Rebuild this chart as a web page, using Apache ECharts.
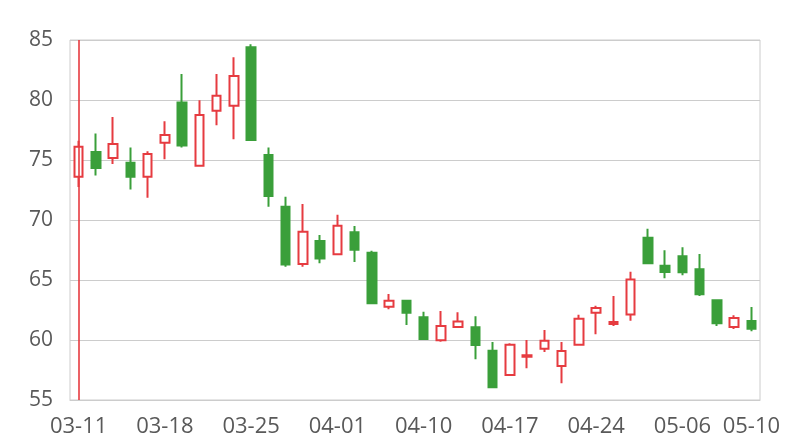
<!DOCTYPE html>
<html>
<head>
<meta charset="utf-8">
<script src="https://cdn.jsdelivr.net/npm/echarts@6/dist/echarts.min.js"></script>
<style>html,body{margin:0;padding:0;background:#fff}#c{width:800px;height:440px}</style>
</head>
<body>
<div id="c"></div>
<script>
const dates = ['03-11','03-12','03-13','03-14','03-15','03-18','03-19','03-20','03-21','03-22',
  '03-25','03-26','03-27','03-28','03-29','04-01','04-02','04-03','04-08','04-09',
  '04-10','04-11','04-12','04-15','04-16','04-17','04-18','04-19','04-22','04-23',
  '04-24','04-25','04-26','04-29','04-30','05-06','05-07','05-08','05-09','05-10'];
const opens  = [73.6,75.67,75.17,74.78,73.6,76.44,79.8,74.53,79.1,79.53,
  84.39,75.42,71.1,66.33,68.25,67.14,68.97,67.28,62.78,63.28,
  61.89,59.97,61.08,61.06,59.11,57.08,58.61,59.28,57.83,59.61,
  62.28,61.33,62.12,68.53,66.19,66.97,65.89,63.31,61.08,61.58];
const closes = [76.1,74.33,76.33,73.6,75.5,77.08,76.2,78.75,80.36,82.0,
  76.67,72.0,66.3,69.03,66.8,69.53,67.53,63.06,63.28,62.28,
  60.08,61.17,61.55,59.58,56.06,59.61,58.72,59.94,59.08,61.78,
  62.67,61.5,65.05,66.39,65.67,65.64,63.81,61.39,61.83,60.94];
const lows   = [72.75,73.7,74.67,72.55,71.86,75.06,76.05,74.5,77.9,76.72,
  76.67,71.1,66.1,66.1,66.39,67.14,66.5,63.06,62.56,61.25,
  60.03,59.86,61.08,58.39,56.06,57.08,57.64,59.0,56.39,59.61,
  60.47,61.17,61.61,66.39,65.14,65.39,63.67,61.17,60.92,60.72];
const highs  = [76.6,77.2,78.58,76.05,75.72,78.22,82.17,79.97,82.17,83.56,
  84.64,76.05,71.94,71.33,68.75,70.44,69.5,67.44,63.83,63.28,
  62.36,62.42,62.32,61.97,59.83,59.72,60.0,60.83,59.83,62.11,
  62.86,63.67,65.69,69.28,67.47,67.72,67.17,63.31,62.06,62.75];
const markedDate = '03-11';

const ohlc = dates.map((d, i) => [opens[i], closes[i], lows[i], highs[i]]);
const RED = '#e63b40', GREEN = '#3a9f3a';
const chart = echarts.init(document.getElementById('c'));
chart.setOption({
  animation: false,
  grid: { left: 70, right: 40, top: 40, bottom: 40, show: true, borderColor: '#cccccc', borderWidth: 1 },
  xAxis: {
    type: 'category',
    data: dates,
    axisLine: { show: true, lineStyle: { color: '#cccccc' } },
    axisTick: { show: false },
    axisLabel: {
      interval: (i) => i % 5 === 0 || i === dates.length - 1,
      margin: 16, color: '#595959', fontSize: 22, fontFamily: 'Open Sans'
    },
    splitLine: { show: false }
  },
  yAxis: {
    type: 'value', min: 55, max: 85, interval: 5,
    axisLine: { show: false }, axisTick: { show: false },
    axisLabel: { margin: 17, color: '#595959', fontSize: 21, fontFamily: 'Open Sans' },
    splitLine: { lineStyle: { color: '#cccccc', width: 1 } }
  },
  series: [{
    type: 'candlestick',
    data: ohlc,
    barWidth: 9,
    itemStyle: { color: '#ffffff', color0: GREEN, borderColor: RED, borderColor0: GREEN, borderWidth: 2 },
    markLine: {
      silent: true, symbol: 'none', label: { show: false },
      lineStyle: { color: 'rgba(230,59,64,0.8)', width: 2, type: 'solid' },
      data: [{ xAxis: markedDate }]
    }
  }]
});
</script>
</body>
</html>
